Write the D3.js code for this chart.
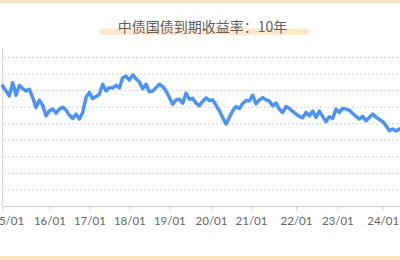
<!DOCTYPE html>
<html>
<head>
<meta charset="utf-8">
<script src="https://cdn.jsdelivr.net/npm/d3@7"></script>
<style>
  body { margin: 0; background: #fff; }
  svg { display: block; font-family: "Noto Sans CJK SC", "Noto Sans", sans-serif; }
</style>
</head>
<body>
<svg width="400" height="260"></svg>
<script>
// 中债国债到期收益率：10年 (%), one value per point, 15/01 .. 24/06
const title = "中债国债到期收益率：10年";
const yields = [
  3.64, 3.49, 3.34, 3.74, 3.36, 3.66, 3.56, 3.49, 3.54, 3.29,
  2.99, 3.21, 3.06, 2.74, 2.89, 2.94, 2.82, 2.94, 3.0, 2.91,
  2.76, 2.66, 2.79, 2.64, 2.84, 3.29, 3.44, 3.26, 3.32, 3.39,
  3.69, 3.49, 3.59, 3.58, 3.66, 3.58, 3.89, 3.94, 3.82, 3.97,
  3.86, 3.76, 3.56, 3.69, 3.46, 3.49, 3.59, 3.69, 3.62, 3.49,
  3.29, 3.09, 3.22, 3.24, 3.12, 3.42, 3.24, 3.27, 3.12, 3.04,
  3.18, 3.28, 3.2, 3.22, 3.06, 2.89, 2.69, 2.49, 2.69, 2.89,
  3.02, 2.96, 3.11, 3.2, 3.19, 3.36, 3.1, 3.22, 3.29, 3.22,
  3.18, 3.04, 3.12, 2.94, 2.84, 3.02, 2.96, 2.87, 2.79, 2.72,
  2.68, 2.84, 2.74, 2.88, 2.69, 2.88, 2.72, 2.56, 2.71, 2.66,
  2.94, 2.84, 2.96, 2.94, 2.91, 2.81, 2.72, 2.64, 2.72, 2.59,
  2.69, 2.79, 2.7, 2.63, 2.57, 2.44, 2.29, 2.34, 2.28, 2.34
];
// index of the first point of each year and its label
const tickIndex = [0, 14, 26, 38, 50, 62.5, 74.5, 88, 100.4, 114];
const tickLabels = ["15/01", "16/01", "17/01", "18/01", "19/01", "20/01", "21/01", "22/01", "23/01", "24/01"];
const gridValues = [0.5, 1, 1.5, 2, 2.5, 3, 3.5, 4, 4.5];

const svg = d3.select("svg");

// top and bottom peach bands
svg.append("rect").attr("x", 0).attr("y", 0).attr("width", 400).attr("height", 3).attr("fill", "#fde4c0");
svg.append("rect").attr("x", 0).attr("y", 256).attr("width", 400).attr("height", 4).attr("fill", "#fde4c0");

// title with highlight underneath
svg.append("rect")
  .attr("x", 99).attr("y", 28.5).attr("width", 210).attr("height", 6.5)
  .attr("rx", 3.25).attr("fill", "#fde9cc");
svg.append("text")
  .attr("x", 202.5).attr("y", 32)
  .attr("text-anchor", "middle")
  .style("font-size", "14px")
  .style("fill", "#5f5f5f")
  .text(title);

// scales
const x = d3.scaleLinear().domain([0, yields.length - 1]).range([2.7, 2.7 + (yields.length - 1) * 3.333]);
const y = d3.scaleLinear().domain([0, 4.5]).range([206.5, 57.5]);

// dotted gridlines
svg.append("g")
  .selectAll("line")
  .data(gridValues)
  .enter()
  .append("line")
  .attr("x1", 4).attr("x2", 400)
  .attr("y1", (d) => y(d)).attr("y2", (d) => y(d))
  .attr("stroke", "#d2d2d2")
  .attr("stroke-width", 1)
  .attr("stroke-dasharray", "2,2");

// left axis line
svg.append("line")
  .attr("x1", 2.7).attr("x2", 2.7).attr("y1", 48).attr("y2", y(0))
  .attr("stroke", "#cfcfcf").attr("stroke-width", 1);

// x axis
const xAxis = d3.axisBottom(x)
  .tickValues(tickIndex)
  .tickFormat((d, i) => tickLabels[i])
  .tickSize(4)
  .tickPadding(6);
const gx = svg.append("g").attr("transform", `translate(0,${y(0)})`).call(xAxis);
gx.select(".domain").attr("d", "M2.7,0H400").attr("stroke", "#cfcfcf");
gx.selectAll(".tick line").attr("stroke", "#cfcfcf");
gx.selectAll(".tick text")
  .style("font-size", "11.5px")
  .style("font-family", "Lato, 'Noto Sans', sans-serif")
  .style("fill", "#666");
// first label sits half outside the left edge, as in the source crop
gx.select(".tick text").attr("dx", 5);

// the yield line
const line = d3.line()
  .x((d, i) => x(i))
  .y((d) => y(d));
svg.append("path")
  .datum(yields)
  .attr("d", line)
  .attr("fill", "none")
  .attr("stroke", "#4b93f7")
  .attr("stroke-width", 3.5)
  .attr("stroke-linejoin", "round")
  .attr("stroke-linecap", "round");
</script>
</body>
</html>
